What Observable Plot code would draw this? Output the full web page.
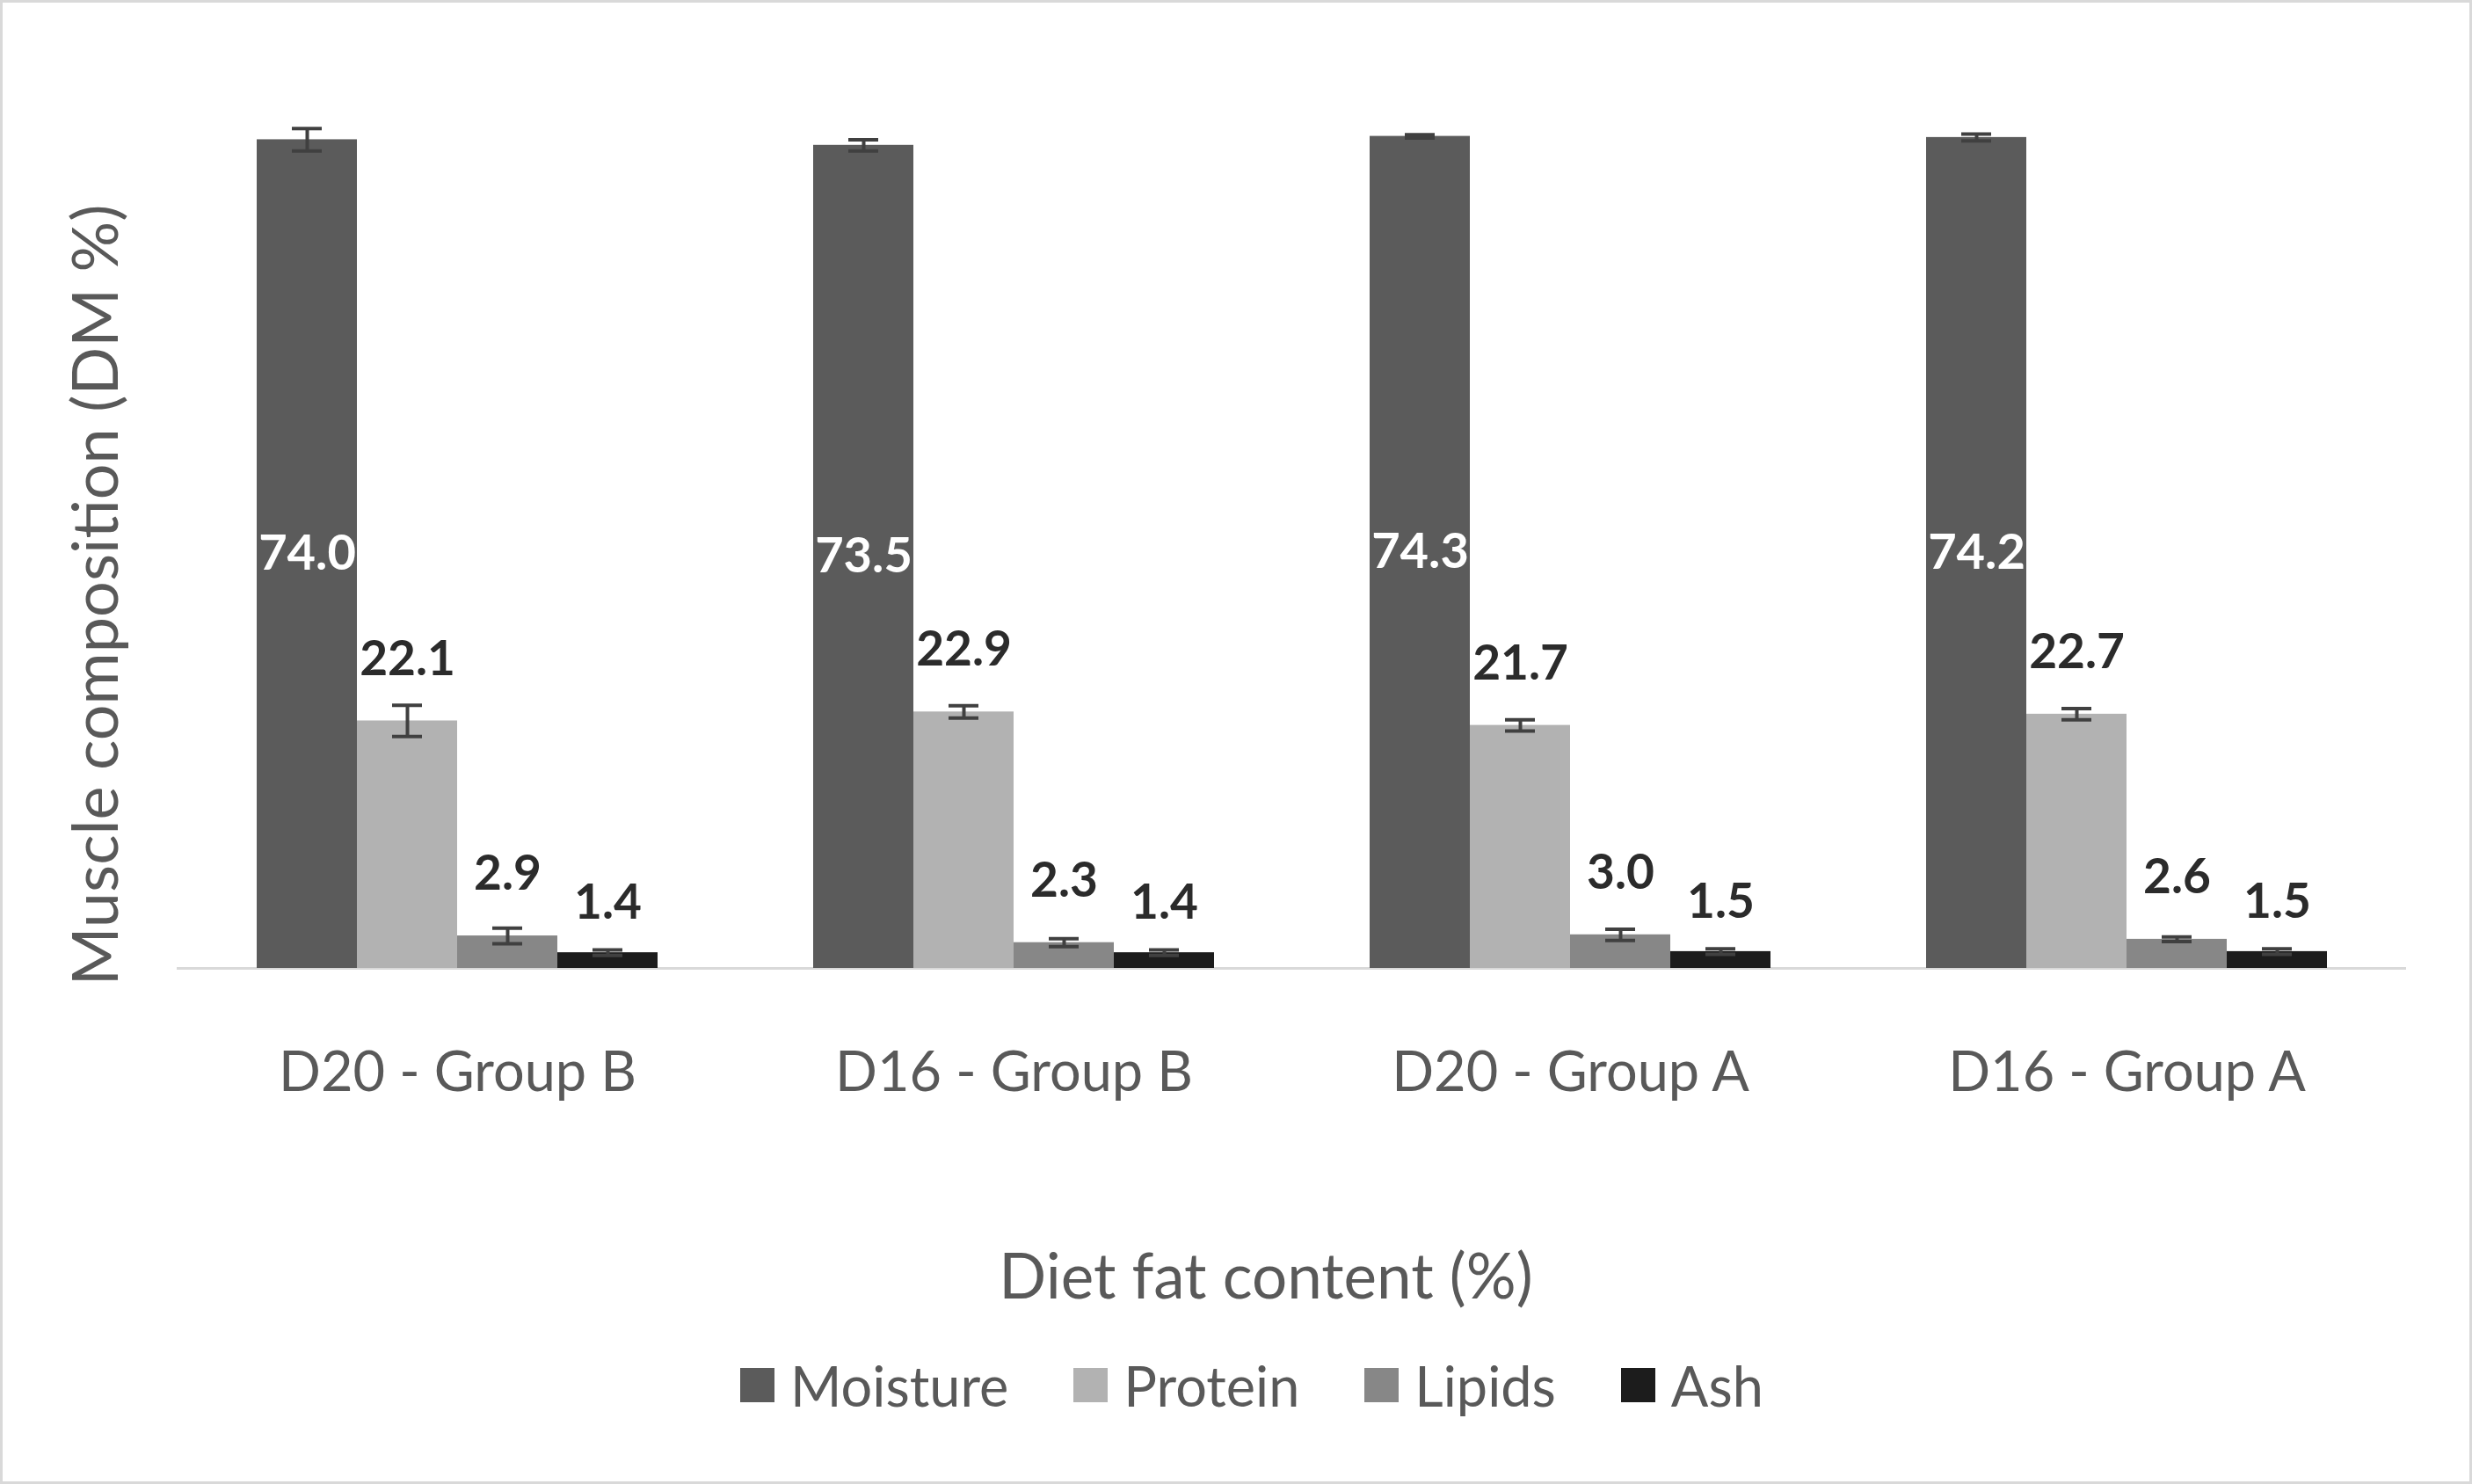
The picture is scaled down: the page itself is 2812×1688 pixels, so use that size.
<!DOCTYPE html>
<html>
<head>
<meta charset="utf-8">
<script src="https://cdn.jsdelivr.net/npm/d3@7"></script>
<script src="https://cdn.jsdelivr.net/npm/@observablehq/plot@0.6"></script>
<style>
  html, body { margin: 0; padding: 0; background: #fff; overflow: hidden; }
  #wrap { position: relative; width: 2812px; height: 1688px; background: #fff; }
  #frame { position: absolute; left: 0; top: 0; width: 2812px; height: 1688px; box-sizing: border-box;
           border: 3px solid #d9d9d9; pointer-events: none; z-index: 5; }
  #legend { display: flex; justify-content: center; align-items: center; height: 110px;
            font-family: Lato, sans-serif; font-size: 63px; color: #595959; padding-left: 36px; }
  .item { display: flex; align-items: center; margin: 0 37px; }
  .sw { width: 39px; height: 39px; margin-right: 18px; }
</style>
</head>
<body>
<div id="wrap"><div id="frame"></div><div id="chart"></div><div id="legend"></div></div>
<script>
const groups = ["D20 - Group B", "D16 - Group B", "D20 - Group A", "D16 - Group A"];
const components = ["Moisture", "Protein", "Lipids", "Ash"];
const colors = ["#5b5b5b", "#b2b2b2", "#878787", "#1c1c1c"];
const moisture = [74.0, 73.5, 74.3, 74.2];
const protein = [22.1, 22.9, 21.7, 22.7];
const lipids = [2.9, 2.3, 3.0, 2.6];
const ash = [1.4, 1.4, 1.5, 1.5];
const moistureErr = [1.0, 0.5, 0.15, 0.3];
const proteinErr = [1.4, 0.55, 0.5, 0.5];
const lipidsErr = [0.7, 0.35, 0.5, 0.2];
const ashErr = [0.25, 0.25, 0.25, 0.25];
const yLabel = "Muscle composition (DM %)";
const xLabel = "Diet fat content (%)";

const series = [moisture, protein, lipids, ash];
const errs = [moistureErr, proteinErr, lipidsErr, ashErr];
const data = [];
groups.forEach((g, gi) => components.forEach((c, ci) => {
  data.push({group: g, component: c, value: series[ci][gi], err: errs[ci][gi]});
}));

const chart = Plot.plot({
  width: 2812,
  height: 1520,
  marginLeft: 203,
  marginRight: 77,
  marginTop: 82,
  marginBottom: 419,
  style: {fontFamily: "Lato, sans-serif", background: "transparent"},
  fx: {domain: groups, paddingInner: 0.2765, paddingOuter: 0.138},
  x: {domain: components, padding: 0, axis: null},
  y: {domain: [0, 80], axis: null},
  color: {domain: components, range: colors},
  marks: [
    Plot.frame({anchor: "bottom", facet: "super", stroke: "#d9d9d9", strokeWidth: 3, insetLeft: -89, insetRight: -87}),
    Plot.barY(data, {fx: "group", x: "component", y: "value", fill: "component", inset: 0}),
    Plot.ruleX(data, {fx: "group", x: "component", y1: d => d.value - d.err, y2: d => d.value + d.err,
      stroke: "#404040", strokeWidth: 4}),
    Plot.tickY(data, {fx: "group", x: "component", y: d => d.value + d.err, stroke: "#404040", strokeWidth: 4,
      insetLeft: 40, insetRight: 40}),
    Plot.tickY(data, {fx: "group", x: "component", y: d => d.value - d.err, stroke: "#404040", strokeWidth: 4,
      insetLeft: 40, insetRight: 40}),
    Plot.text(data.filter(d => d.component === "Moisture"), {fx: "group", x: "component", y: d => d.value / 2,
      text: d => d.value.toFixed(1), fill: "white", fontWeight: "bold", fontSize: 56}),
    Plot.text(data.filter(d => d.component === "Protein" || d.component === "Lipids"), {fx: "group", x: "component", y: "value",
      text: d => d.value.toFixed(1), fill: "#2b2b2b", fontWeight: "bold", fontSize: 55, dy: -70}),
    Plot.text(data.filter(d => d.component === "Ash"), {fx: "group", x: "component", y: "value",
      text: d => d.value.toFixed(1), fill: "#2b2b2b", fontWeight: "bold", fontSize: 55, dy: -56}),
    Plot.axisFx({anchor: "bottom", tickSize: 0, tickPadding: 95, fontSize: 63, fill: "#595959", label: null}),
    Plot.text([yLabel], {facet: "super", frameAnchor: "left", textAnchor: "middle", lineAnchor: "middle",
      rotate: -90, dx: -181, dy: 85, fontSize: 72, fill: "#595959"}),
    Plot.text([xLabel], {facet: "super", frameAnchor: "bottom", dx: -30, dy: 375,
      fontSize: 71, fill: "#595959"})
  ]
});
document.getElementById("chart").appendChild(chart);

const legend = document.getElementById("legend");
components.forEach((c, i) => {
  const item = document.createElement("div");
  item.className = "item";
  const sw = document.createElement("div");
  sw.className = "sw";
  sw.style.background = colors[i];
  const t = document.createElement("span");
  t.textContent = c;
  item.appendChild(sw); item.appendChild(t);
  legend.appendChild(item);
});
</script>
</body>
</html>
